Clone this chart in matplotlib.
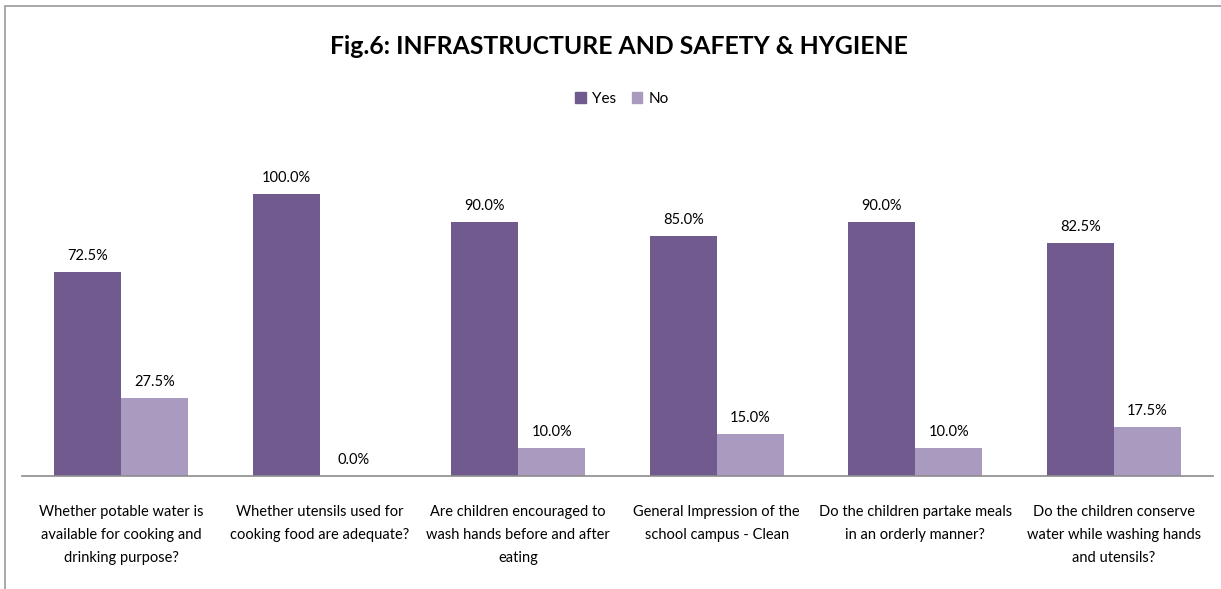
import matplotlib
matplotlib.use("Agg")
import matplotlib.pyplot as plt
from matplotlib.patches import Rectangle
import numpy as np

plt.rcParams['font.family'] = ['Lato', 'DejaVu Sans']

categories = [
    "Whether potable water is\navailable for cooking and\ndrinking purpose?",
    "Whether utensils used for\ncooking food are adequate?",
    "Are children encouraged to\nwash hands before and after\neating",
    "General Impression of the\nschool campus - Clean",
    "Do the children partake meals\nin an orderly manner?",
    "Do the children conserve\nwater while washing hands\nand utensils?",
]
yes_vals = [72.5, 100.0, 90.0, 85.0, 90.0, 82.5]
no_vals = [27.5, 0.0, 10.0, 15.0, 10.0, 17.5]
series_names = ["Yes", "No"]
title = "Fig.6: INFRASTRUCTURE AND SAFETY & HYGIENE"

c_yes = "#715A8E"
c_no = "#A99ABF"

W, H = 1221, 589
fig = plt.figure(figsize=(W / 100, H / 100), dpi=100)

# outer chart border
fig.add_artist(Rectangle((5 / W, -0.1), 1.2, 1 - 6 / H + 0.1, transform=fig.transFigure,
                         fill=False, edgecolor="#9a9a9a", linewidth=1.2))

ax = fig.add_axes([22 / W, 1 - 476 / H, (1213 - 22) / W, (476 - 194) / H])
ax.set_ylim(0, 100)
x = np.arange(len(categories))
ax.set_xlim(-0.5, len(categories) - 0.5)
bw = 0.337
b1 = ax.bar(x - bw / 2, yes_vals, bw, color=c_yes, label=series_names[0])
b2 = ax.bar(x + bw / 2, no_vals, bw, color=c_no, label=series_names[1])

for bars, vals in ((b1, yes_vals), (b2, no_vals)):
    for r, v in zip(bars, vals):
        ax.annotate(f"{v:.1f}%", (r.get_x() + r.get_width() / 2, v), xytext=(0, 6.5),
                    textcoords="offset points", ha="center", va="bottom",
                    fontsize=10.5, annotation_clip=False)

for s in ["top", "right", "left"]:
    ax.spines[s].set_visible(False)
ax.spines["bottom"].set_color("#8c8c8c")
ax.spines["bottom"].set_linewidth(1.2)
ax.set_yticks([])
ax.set_xticks(x)
ax.set_xticklabels(categories, fontsize=10.5, linespacing=1.8)
ax.tick_params(axis="x", length=0, pad=21)

fig.text(619 / W, 1 - 47 / H, title, ha="center", va="center", fontsize=17.8, fontweight="bold")

handles = [Rectangle((0, 0), 1, 1, color=c_yes), Rectangle((0, 0), 1, 1, color=c_no)]
fig.legend(handles, series_names, loc="center", bbox_to_anchor=(622 / W, 1 - 99 / H), ncol=2,
           frameon=False, fontsize=11, handlelength=0.7, handleheight=0.7,
           handletextpad=0.4, columnspacing=1.0)

fig.savefig("out.png", dpi=100)
